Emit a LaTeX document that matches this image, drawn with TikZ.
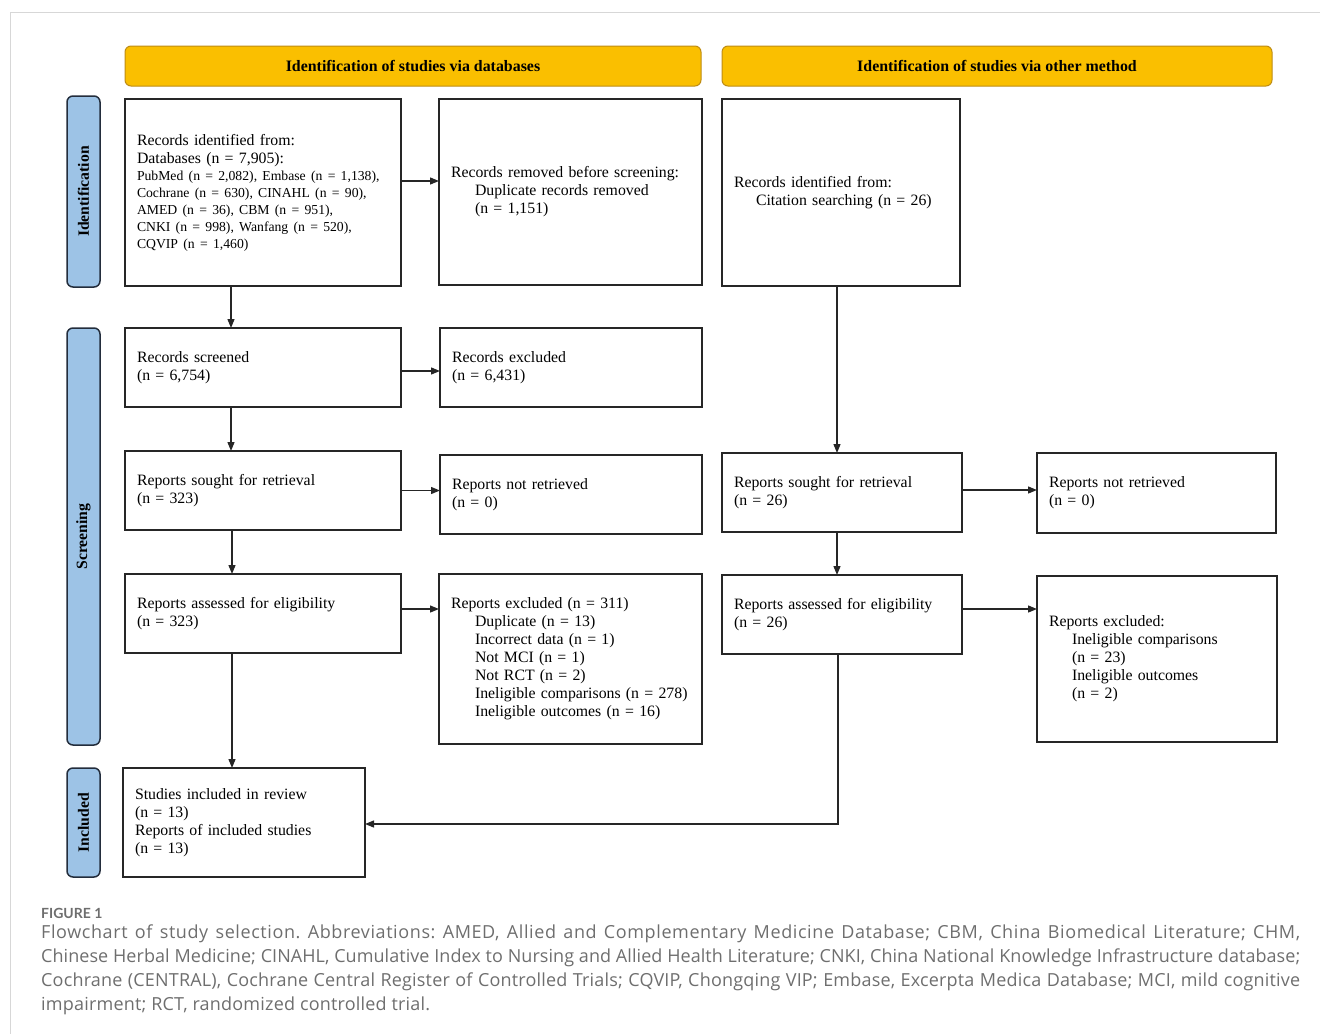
\documentclass[tikz,border=0pt]{standalone}
\usepackage{fontspec}
\setmainfont{Liberation Serif}
\newfontfamily\capfont{Open Sans}
\newfontfamily\lblfont{Lato}
\usepackage{xcolor}
\usepackage{tikz}
\usetikzlibrary{shapes,arrows,positioning,calc,arrows.meta}
\frenchspacing

\definecolor{hdrgold}{RGB}{250,191,0}
\definecolor{hdredge}{RGB}{190,140,20}
\definecolor{sideblue}{RGB}{157,195,230}
\definecolor{sideedge}{RGB}{35,45,60}
\definecolor{capgray}{RGB}{110,110,110}
\definecolor{framegray}{RGB}{215,215,215}

% one justified caption line, #1 = letter spacing
\newcommand{\capline}[2]{\makebox[1259pt][s]{\addfontfeature{LetterSpace=#1}#2}}

\tikzset{
    box/.style={draw=black!85, line width=1.3pt, anchor=north west, inner xsep=12pt,
        inner ysep=0pt, outer sep=0pt, align=left, font=\fontsize{15.8}{18}\selectfont},
    header/.style={draw=hdredge, fill=hdrgold, line width=1pt, rounded corners=6pt,
        anchor=north west, minimum height=40pt, outer sep=0pt,
        font=\bfseries\fontsize{15.9}{18}\selectfont},
    side/.style={draw=sideedge, fill=sideblue, line width=1.5pt, rounded corners=6pt,
        rotate=90, minimum height=33pt, outer sep=0pt, inner sep=0pt,
        font=\bfseries\fontsize{15.7}{18}\selectfont},
    arr/.style={line width=1.3pt, black!85, -{Triangle[length=9pt,width=7pt]}}
}

\begin{document}
\begin{tikzpicture}[x=1pt, y=-1pt]
    \useasboundingbox (0,0) rectangle (1320,1034);
    \draw[framegray, line width=1pt] (1320,12) -| (10,1034);

    % phase headers
    \node[header, minimum width=576pt] (hdrdb) at (125,46) {Identification of studies via databases};
    \node[header, minimum width=550pt] (hdrother) at (722,46) {Identification of studies via other method};

    % side labels
    \node[side, minimum width=191pt] (sideid) at (83.5,191.5) {Identification};
    \node[side, minimum width=417pt] (sidescr) at (83.5,536.5) {Screening};
    \node[side, minimum width=109pt] (sideinc) at (83.5,822.5) {Included};

    % databases column
    \node[box, text width=252pt, minimum height=187pt] (recid) at (125,99)
        {Records identified from:\\ Databases (n = 7,905):\\
        \fontsize{13.7}{17}\selectfont PubMed (n = 2,082), Embase (n = 1,138),\\
        Cochrane (n = 630), CINAHL (n = 90),\\ AMED (n = 36), CBM (n = 951),\\
        CNKI (n = 998), Wanfang (n = 520),\\ CQVIP (n = 1,460)\\[14pt]};
    \node[box, text width=239pt, minimum height=186pt] (recrem) at (439,99)
        {Records removed before screening:\\ \hspace*{24pt}Duplicate records removed\\ \hspace*{24pt}(n = 1,151)};
    \node[box, text width=252pt, minimum height=79pt] (recscr) at (125,328)
        {Records screened\\ (n = 6,754)};
    \node[box, text width=238pt, minimum height=79pt] (recexc) at (440,328)
        {Records excluded\\ (n = 6,431)};
    \node[box, text width=252pt, minimum height=79pt] (repsought) at (125,451)
        {Reports sought for retrieval\\ (n = 323)};
    \node[box, text width=238pt, minimum height=79pt] (repnot) at (440,455)
        {Reports not retrieved\\ (n = 0)};
    \node[box, text width=252pt, minimum height=79pt] (repelig) at (125,574)
        {Reports assessed for eligibility\\ (n = 323)};
    \node[box, text width=239pt, minimum height=170pt] (repexc) at (439,574)
        {Reports excluded (n = 311)\\ \hspace*{24pt}Duplicate (n = 13)\\ \hspace*{24pt}Incorrect data (n = 1)\\
        \hspace*{24pt}Not MCI (n = 1)\\ \hspace*{24pt}Not RCT (n = 2)\\
        \hspace*{24pt}Ineligible comparisons (n = 278)\\ \hspace*{24pt}Ineligible outcomes (n = 16)};
    \node[box, text width=218pt, minimum height=109pt] (incl) at (123,768)
        {Studies included in review\\ (n = 13)\\ Reports of included studies\\ (n = 13)};

    % other methods column
    \node[box, text width=214pt, minimum height=187pt] (citid) at (722,99)
        {Records identified from:\\ \hspace*{22pt}Citation searching (n = 26)};
    \node[box, text width=216pt, minimum height=79pt] (citsought) at (722,453)
        {Reports sought for retrieval\\ (n = 26)};
    \node[box, text width=215pt, minimum height=80pt] (citnot) at (1037,453)
        {Reports not retrieved\\ (n = 0)};
    \node[box, text width=216pt, minimum height=79pt] (citelig) at (722,575)
        {Reports assessed for eligibility\\ (n = 26)};
    \node[box, text width=216pt, minimum height=166pt] (citexc) at (1037,576)
        {Reports excluded:\\ \hspace*{23pt}Ineligible comparisons\\ \hspace*{23pt}(n = 23)\\
        \hspace*{23pt}Ineligible outcomes\\ \hspace*{23pt}(n = 2)};

    % connectors
    \draw[arr] ([yshift=11.5pt]recid.east) -- ([yshift=11.5pt]recid.east -| recrem.west);
    \draw[arr] ([xshift=-32pt]recid.south) -- ([xshift=-32pt]recid.south |- recscr.north);
    \draw[arr] ([yshift=-3.5pt]recscr.east) -- ([yshift=-3.5pt]recscr.east -| recexc.west);
    \draw[arr] ([xshift=-32pt]recscr.south) -- ([xshift=-32pt]recscr.south |- repsought.north);
    \draw[arr] (repsought.east) -- (repsought.east -| repnot.west);
    \draw[arr] ([xshift=-31pt]repsought.south) -- ([xshift=-31pt]repsought.south |- repelig.north);
    \draw[arr] ([yshift=4.5pt]repelig.east) -- ([yshift=4.5pt]repelig.east -| repexc.west);
    \draw[arr] ([xshift=-31pt]repelig.south) -- ([xshift=-31pt]repelig.south |- incl.north);
    \draw[arr] ([xshift=-4pt]citid.south) -- ([xshift=-4pt]citid.south |- citsought.north);
    \draw[arr] ([yshift=2.5pt]citsought.east) -- ([yshift=2.5pt]citsought.east -| citnot.west);
    \draw[arr] ([xshift=-5pt]citsought.south) -- ([xshift=-5pt]citsought.south |- citelig.north);
    \draw[arr] ([yshift=5.5pt]citelig.east) -- ([yshift=5.5pt]citelig.east -| citexc.west);
    \draw[arr] ([xshift=-4pt]citelig.south) |- ([yshift=-1.5pt]incl.east);

    % caption
    \node[anchor=base west, inner sep=0pt, text=capgray, font=\lblfont\bfseries\fontsize{14}{17}\selectfont]
        (figlabel) at (41,918) {FIGURE 1};
    \node[anchor=north west, inner sep=0pt, align=left, text=capgray,
        font=\capfont\fontsize{18}{24}\selectfont] (caption) at (41,925)
        {\capline{3.3}{Flowchart of study selection. Abbreviations: AMED, Allied and Complementary Medicine Database; CBM, China Biomedical Literature; CHM,}\\
        \capline{0.3}{Chinese Herbal Medicine; CINAHL, Cumulative Index to Nursing and Allied Health Literature; CNKI, China National Knowledge Infrastructure database;}\\
        \capline{1.0}{Cochrane (CENTRAL), Cochrane Central Register of Controlled Trials; CQVIP, Chongqing VIP; Embase, Excerpta Medica Database; MCI, mild cognitive}\\
        {\addfontfeature{LetterSpace=1.1}impairment; RCT, randomized controlled trial.}};
\end{tikzpicture}
\end{document}
